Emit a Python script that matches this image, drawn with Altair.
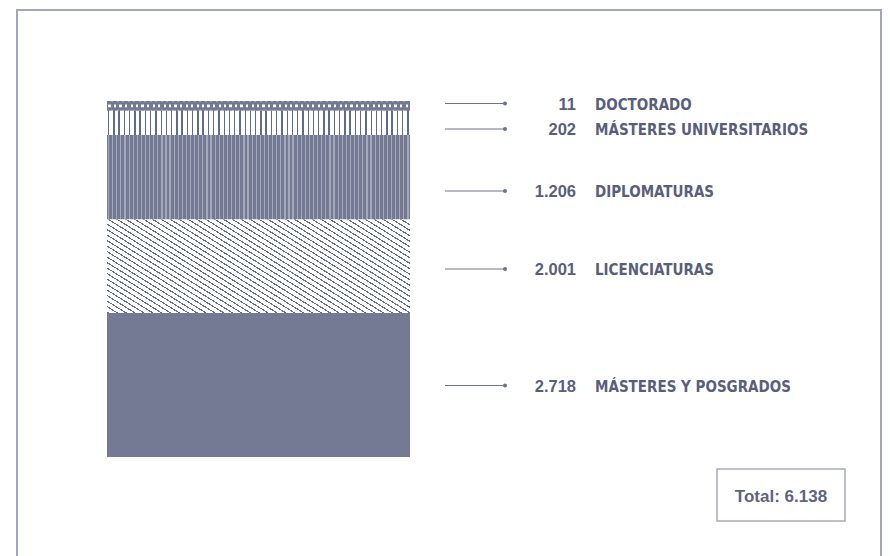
import altair as alt
import pandas as pd

# ---- data ----
categories = ["DOCTORADO", "MÁSTERES UNIVERSITARIOS", "DIPLOMATURAS",
              "LICENCIATURAS", "MÁSTERES Y POSGRADOS"]
values = [11, 202, 1206, 2001, 2718]
# visual extent of each band of the stacked bar (drawn units, top to bottom)
band_heights = [9.7, 24.3, 84.5, 93.5, 144.0]
# where each callout points along the bar (drawn units from the bar top)
label_anchor = [2.5, 28.0, 90.0, 168.0, 284.5]
total_label = "Total: "

# ---- layout / style ----
W, H = 874, 548
TOP = 93
BAR_X0, BAR_X1 = 99, 402
BAR_W = BAR_X1 - BAR_X0
CON_X0, CON_X1 = 437, 497
VAL_X, LAB_X = 568, 587
DARK = "#747a93"
TXT = "#595f7b"
FRAME = "#a3a6ba"

def fmt(v):
    return f"{v:,}".replace(",", ".")

y0, acc = [], 0.0
for h in band_heights:
    y0.append(acc)
    acc += h
df = pd.DataFrame({
    "cat": categories,
    "value": values,
    "y0": y0,
    "y1": [a + h for a, h in zip(y0, band_heights)],
    "ly": label_anchor,
})
df["vtext"] = [fmt(v) for v in values]
df["bx0"] = BAR_X0
df["bx1"] = BAR_X1
df["cx0"] = CON_X0
df["cx1"] = CON_X1
df["vx"] = VAL_X
df["lx"] = LAB_X
df["ty"] = df["ly"] + 1.0
df["mid"] = (df["y0"] + df["y1"]) / 2

xs = alt.Scale(domain=[0, W], nice=False, zero=False)
ys = alt.Scale(domain=[-TOP, H - TOP], nice=False, zero=False, reverse=True)


def stripes(period, line, bg, fg, span, phase=0.0, x1=0, y1=0, x2=1, y2=0):
    stops = [{"offset": 0, "color": bg}]
    pos = phase
    while pos + line <= span:
        a = round(pos / span, 5)
        b = round((pos + line) / span, 5)
        stops += [{"offset": a, "color": bg}, {"offset": a, "color": fg},
                  {"offset": b, "color": fg}, {"offset": b, "color": bg}]
        pos += period
    stops.append({"offset": 1, "color": bg})
    return {"gradient": "linear", "x1": x1, "y1": y1, "x2": x2, "y2": y2,
            "stops": stops}


def band(name, fill, ycol0="y0", ycol1="y1", d=None):
    src = df if d is None else d
    return alt.Chart(src).transform_filter(alt.datum.cat == name).mark_rect(
        fill=fill, strokeWidth=0
    ).encode(
        x=alt.X("bx0:Q", scale=xs, axis=None),
        x2="bx1:Q",
        y=alt.Y(f"{ycol0}:Q", scale=ys, axis=None),
        y2=f"{ycol1}:Q",
    )

# doctorado: dark band with a row of white dots
dots_df = df.copy()
dots_df["d0"] = dots_df["mid"] - 1.4
dots_df["d1"] = dots_df["mid"] + 1.4
dots_df["e0"] = dots_df["y0"]
dots_df["e1"] = dots_df["y0"] + 1.0
dots_df["f0"] = dots_df["y1"] - 1.0
dots_df["f1"] = dots_df["y1"]

doc = band(categories[0], DARK)
doc_dots = band(categories[0], stripes(5.5, 2.2, DARK, "#ffffff", BAR_W, 1.5),
                "d0", "d1", dots_df)
doc_top = band(categories[0], stripes(5.5, 2.0, DARK, "#9ea2b6", BAR_W, 4.2),
               "e0", "e1", dots_df)
doc_bot = band(categories[0], stripes(5.5, 2.0, DARK, "#9ea2b6", BAR_W, 4.2),
               "f0", "f1", dots_df)

mu = band(categories[1], stripes(5.25, 1.3, "#ffffff", "#5f6a8c", BAR_W, 1.0))
dip = band(categories[2], stripes(4.1, 1.2, DARK, "#a4a8bb", BAR_W, 1.0))

# licenciaturas: diagonal hatch
s = 0.62
hh = band_heights[3]
k = hh / (s * BAR_W)
lam = (1 + k) / (1 + k * k)
span = BAR_W * lam * (1 + k * k)
lic = band(categories[3], stripes(5.5 / s, 2.1, "#ffffff", "#66708f", span, 0.5,
                                  x1=0, y1=1, x2=round(lam, 5),
                                  y2=round(1 - lam * k, 5)))
myp = band(categories[4], DARK)

base = alt.Chart(df)
con = base.mark_rule(color="#6e738c", strokeWidth=1).encode(
    x=alt.X("cx0:Q", scale=xs, axis=None), x2="cx1:Q",
    y=alt.Y("ly:Q", scale=ys, axis=None))
dot = base.mark_circle(color="#6e738c", size=16, opacity=1).encode(
    x=alt.X("cx1:Q", scale=xs, axis=None),
    y=alt.Y("ly:Q", scale=ys, axis=None))
vals = base.mark_text(align="right", baseline="middle", font="Liberation Sans",
                      fontWeight="bold", fontSize=16.5, color=TXT).encode(
    x=alt.X("vx:Q", scale=xs, axis=None),
    y=alt.Y("ty:Q", scale=ys, axis=None), text="vtext:N")
labs = base.mark_text(align="left", baseline="middle",
                      font="DejaVu Sans Condensed, Liberation Sans Narrow, Liberation Sans",
                      fontWeight="bold",
                      fontSize=15, color=TXT).encode(
    x=alt.X("lx:Q", scale=xs, axis=None),
    y=alt.Y("ty:Q", scale=ys, axis=None), text="cat:N")

frame_df = pd.DataFrame({"x0": [9], "x1": [873], "y0": [-91], "y1": [H - TOP + 20]})
frame = alt.Chart(frame_df).mark_rect(fill="transparent", stroke=FRAME,
                                      strokeWidth=2).encode(
    x=alt.X("x0:Q", scale=xs, axis=None), x2="x1:Q",
    y=alt.Y("y0:Q", scale=ys, axis=None), y2="y1:Q")

box_df = pd.DataFrame({"x0": [709], "x1": [837], "y0": [368], "y1": [420],
                       "tx": [773], "ty": [395.5],
                       "t": [total_label + fmt(sum(values))]})
box = alt.Chart(box_df).mark_rect(fill="#ffffff", stroke="#a9abbe",
                                  strokeWidth=1.5).encode(
    x=alt.X("x0:Q", scale=xs, axis=None), x2="x1:Q",
    y=alt.Y("y0:Q", scale=ys, axis=None), y2="y1:Q")
box_t = alt.Chart(box_df).mark_text(align="center", baseline="middle",
                                    font="Liberation Sans", fontWeight="bold",
                                    fontSize=17, color="#5e647e").encode(
    x=alt.X("tx:Q", scale=xs, axis=None),
    y=alt.Y("ty:Q", scale=ys, axis=None), text="t:N")

chart = alt.layer(frame, doc, doc_dots, doc_top, doc_bot, mu, dip, lic, myp,
                  con, dot, vals, labs, box, box_t).properties(
    width=W, height=H, padding=0,
    autosize=alt.AutoSizeParams(type="none"),
    background="#ffffff",
).configure_view(stroke=None)

chart.save("out.html", embed_options={"renderer": "svg", "actions": False})
